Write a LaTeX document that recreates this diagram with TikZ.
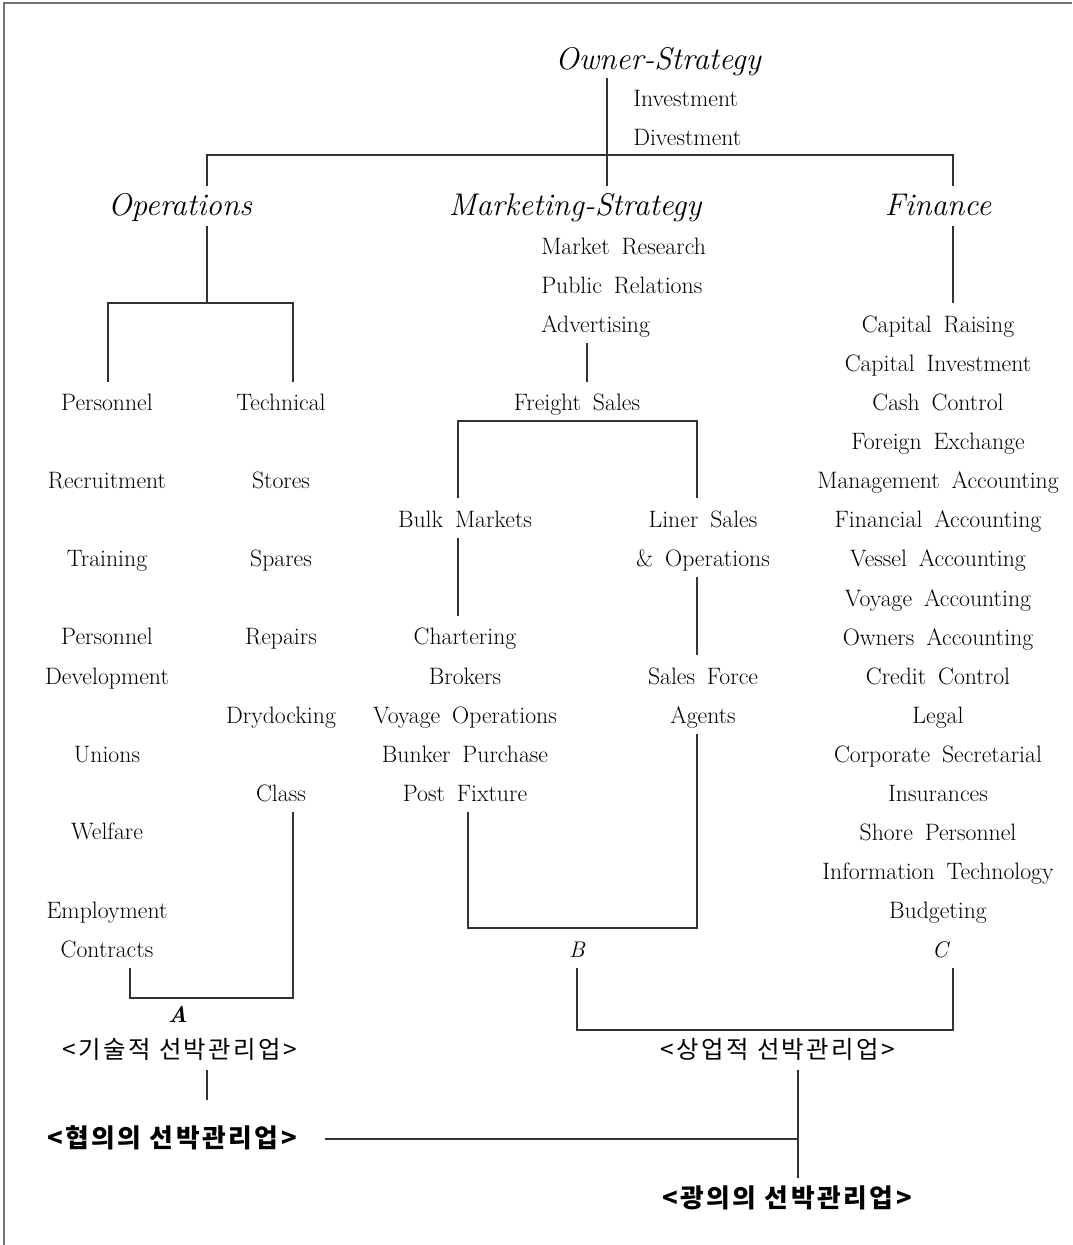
\documentclass[tikz,border=0pt]{standalone}
\usepackage{fontspec}
\newfontfamily\kr{Noto Sans CJK KR}
\newcommand\widesp{\spaceskip=0.5em plus 0.1em\relax}
\begin{document}
\begin{tikzpicture}[x=0.75pt,y=-0.75pt,
  base/.style={inner sep=0pt, text height=0.7em, text depth=0.2em, yshift=-3pt},
  txt/.style={base, font=\fontsize{17.8}{20}\selectfont, execute at begin node=\widesp},
  head/.style={base, font=\fontsize{23.5}{26}\selectfont\itshape},
  lab/.style={base, font=\fontsize{17}{20}\selectfont\itshape},
  kor/.style={base, font=\kr\addfontfeature{LetterSpace=10}\fontsize{18.3}{22}\selectfont},
  korb/.style={base, font=\kr\bfseries\addfontfeature{LetterSpace=10}\fontsize{19.3}{22}\selectfont},
  ln/.style={line width=0.9pt, draw=black!80},
  frame/.style={line width=1pt, draw=black!55}]
\useasboundingbox (0,0) rectangle (1072,1245);
\draw[frame] (4,1245) -- (4,3) -- (1072,3);

% top
\node[head] (own) at (658,62) {Owner-Strategy};
\node[txt,anchor=west] (inv) at (633,99) {Investment};
\node[txt,anchor=west] (div) at (633,138) {Divestment};
\node[head] (ops) at (180,208) {Operations};
\node[head] (mkt) at (575,208) {Marketing-Strategy};
\node[head] (fin) at (938,208) {Finance};

\coordinate (o1) at (607,78); \coordinate (o2) at (607,186);
\coordinate (hl) at (207,155); \coordinate (hr) at (953,155);
\draw[ln] (o1) -- (o2);
\draw[ln] (207,186) -- (hl) -- (hr) -- (953,186);

% operations
\node[txt] (pers) at (107,403) {Personnel};
\node[txt] (tech) at (281,403) {Technical};
\draw[ln] (207,226) -- (207,303);
\draw[ln] (108,382) -- (108,303) -- (293,303) -- (293,382);

\node[txt] (rec) at (107,481) {Recruitment};
\node[txt] (tra) at (107,559) {Training};
\node[txt] (pd1) at (107,637) {Personnel};
\node[txt] (pd2) at (107,677) {Development};
\node[txt] (uni) at (107,755) {Unions};
\node[txt] (wel) at (107,832) {Welfare};
\node[txt] (emp) at (107,911) {Employment};
\node[txt] (con) at (107,950) {Contracts};

\node[txt] (sto) at (281,481) {Stores};
\node[txt] (spa) at (281,559) {Spares};
\node[txt] (rep) at (281,637) {Repairs};
\node[txt] (dry) at (281,716) {Drydocking};
\node[txt] (cla) at (281,794) {Class};

\draw[ln] (293,812) -- (293,998) -- (130,998) -- (130,968);
\node[lab,font=\fontsize{17}{20}\selectfont\bfseries\itshape] (A) at (178,1015) {A};
\node[kor] (tec) at (180,1051) {<기술적 선박관리업>};
\draw[ln] (207,1070) -- (207,1100);
\node[korb] (nar) at (172,1140) {<협의의 선박관리업>};

% marketing
\node[txt,anchor=west] (mr) at (541,247) {Market Research};
\node[txt,anchor=west] (pr) at (541,286) {Public Relations};
\node[txt,anchor=west] (adv) at (541,325) {Advertising};
\draw[ln] (587,343) -- (587,382);
\node[txt] (fs) at (577,403) {Freight Sales};
\draw[ln] (458,498) -- (458,421) -- (697,421) -- (697,498);
\node[txt] (bulk) at (465,520) {Bulk Markets};
\node[txt] (lin1) at (703,520) {Liner Sales};
\node[txt] (lin2) at (703,559) {\& Operations};
\draw[ln] (458,538) -- (458,616);
\node[txt] (cha) at (465,637) {Chartering};
\node[txt] (bro) at (465,677) {Brokers};
\node[txt] (voy) at (465,716) {Voyage Operations};
\node[txt] (bun) at (465,755) {Bunker Purchase};
\node[txt] (pf) at (465,794) {Post Fixture};
\draw[ln] (697,577) -- (697,655);
\node[txt] (sf) at (703,677) {Sales Force};
\node[txt] (ag) at (703,716) {Agents};
\draw[ln] (468,812) -- (468,928) -- (697,928) -- (697,734);
\node[lab] (B) at (577,950) {B};

% finance
\draw[ln] (953,226) -- (953,303);
\foreach \t [count=\i from 0] in {Capital Raising,Capital Investment,Cash Control,Foreign Exchange,Management Accounting,Financial Accounting,Vessel Accounting,Voyage Accounting,Owners Accounting,Credit Control,Legal,Corporate Secretarial,Insurances,Shore Personnel,Information Technology,Budgeting}
  \node[txt] (f\i) at (938,325+39.1*\i) {\t};
\node[lab] (C) at (940,950) {C};

\draw[ln] (577,968) -- (577,1030) -- (953,1030) -- (953,968);
\node[kor] (com) at (778,1051) {<상업적 선박관리업>};
\draw[ln] (798,1070) -- (798,1178);
\draw[ln] (325,1139) -- (798,1139);
\node[korb] (wide) at (787,1200) {<광의의 선박관리업>};
\end{tikzpicture}
\end{document}
